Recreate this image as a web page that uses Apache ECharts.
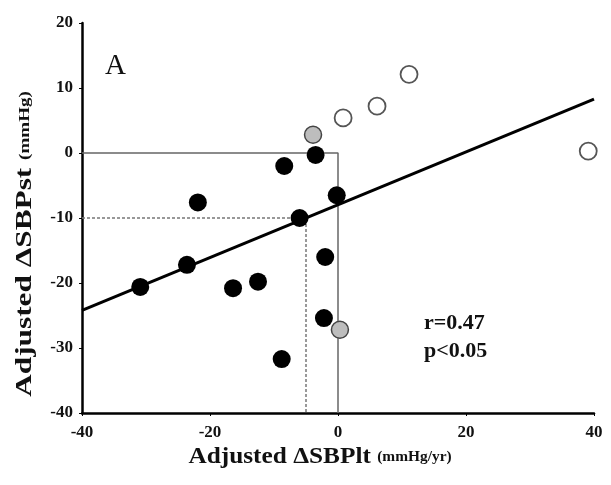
<!DOCTYPE html>
<html>
<head>
<meta charset="utf-8">
<script src="https://cdn.jsdelivr.net/npm/echarts@6/dist/echarts.min.js"></script>
<style>
  html, body { margin: 0; padding: 0; background: #fff; }
  #chart { width: 611px; height: 485px; }
</style>
</head>
<body>
<div id="chart"></div>
<script>
// filled circles (black)
const blackPts = [
  [-30.9, -20.6], [-23.6, -17.2], [-16.4, -20.8], [-12.5, -19.8], [-8.8, -31.7],
  [-21.9, -7.6], [-8.4, -2.0], [-3.5, -0.3], [-6.0, -10.0], [-0.2, -6.5],
  [-2.0, -16.0], [-2.2, -25.4]
]
// grey circles
const greyPts = [[-3.9, 2.8], [0.3, -27.2]]
// open circles
const openPts = [[0.8, 5.4], [6.1, 7.2], [11.1, 12.1], [39.1, 0.3]]
// regression line end points
const fitLine = [[-40, -24.2], [40, 8.3]]
// solid reference box (y = 0, x = 0)
const zeroBox = [[-40, 0], [0, 0], [0, -40]]
// dashed reference lines (y = -10, x = -5)
const dashBox = [[-40, -10], [-5, -10], [-5, -40]]

const xTicks = [-40, -20, 0, 20, 40]
const yTicks = [-40, -30, -20, -10, 0, 10, 20]

const serif = '"Liberation Serif", "Times New Roman", serif'
const titleRich = {
  a: { fontFamily: serif, fontWeight: 'bold', fontSize: 23, fill: '#111' },
  b: { fontFamily: serif, fontWeight: 'bold', fontSize: 14, fill: '#111' }
}
const chart = echarts.init(document.getElementById('chart'))

chart.setOption({
  animation: false,
  grid: { left: 82, right: 17, top: 23, bottom: 72 },
  xAxis: {
    type: 'value',
    min: xTicks[0],
    max: xTicks[xTicks.length - 1],
    interval: 20,
    splitLine: { show: false },
    axisLine: { onZero: false, lineStyle: { color: '#000', width: 2.5 } },
    axisTick: { show: true, length: 3, lineStyle: { color: '#000' } },
    axisLabel: { color: '#111', fontFamily: serif, fontWeight: 'bold', fontSize: 17, margin: 11 }
  },
  yAxis: {
    type: 'value',
    min: yTicks[0],
    max: yTicks[yTicks.length - 1],
    interval: 10,
    splitLine: { show: false },
    axisLine: { onZero: false, lineStyle: { color: '#000', width: 2.5 } },
    axisTick: { show: true, length: 3, lineStyle: { color: '#000' } },
    axisLabel: { color: '#111', fontFamily: serif, fontWeight: 'bold', fontSize: 17, margin: 9 }
  },
  graphic: [
    {
      type: 'text', x: 320, y: 457, scaleX: 1.1,
      style: { text: '{a|Adjusted ΔSBPlt }{b|(mmHg/yr)}', rich: titleRich, align: 'center', verticalAlign: 'middle' }
    },
    {
      type: 'text', x: 25, y: 244, rotation: Math.PI / 2, scaleX: 1.36,
      style: { text: '{a|Adjusted ΔSBPst }{b|(mmHg)}', rich: titleRich, align: 'center', verticalAlign: 'middle' }
    },
    {
      type: 'text', left: 105, top: 52,
      style: { text: 'A', font: '29px ' + serif, fill: '#111' }
    },
    {
      type: 'text', left: 424, top: 309,
      style: { text: 'r=0.47\np<0.05', font: 'bold 22px ' + serif, fill: '#111', lineHeight: 28 }
    }
  ],
  series: [
    {
      type: 'line', data: zeroBox, symbol: 'none', silent: true,
      lineStyle: { color: '#666', width: 1.5 }, z: 1
    },
    {
      type: 'line', data: dashBox, symbol: 'none', silent: true,
      lineStyle: { color: '#777', width: 1.5, type: [3, 2] }, z: 1
    },
    {
      type: 'line', data: fitLine, symbol: 'none', silent: true,
      lineStyle: { color: '#000', width: 3 }, z: 2
    },
    {
      type: 'scatter', data: blackPts, symbolSize: 18, z: 3,
      itemStyle: { color: '#000', opacity: 1 }
    },
    {
      type: 'scatter', data: greyPts, symbolSize: 17, z: 3,
      itemStyle: { color: '#bdbdbd', borderColor: '#444', borderWidth: 1.5, opacity: 1 }
    },
    {
      type: 'scatter', data: openPts, symbolSize: 17, z: 3,
      itemStyle: { color: '#fff', borderColor: '#555', borderWidth: 1.8, opacity: 1 }
    }
  ]
})
</script>
</body>
</html>
